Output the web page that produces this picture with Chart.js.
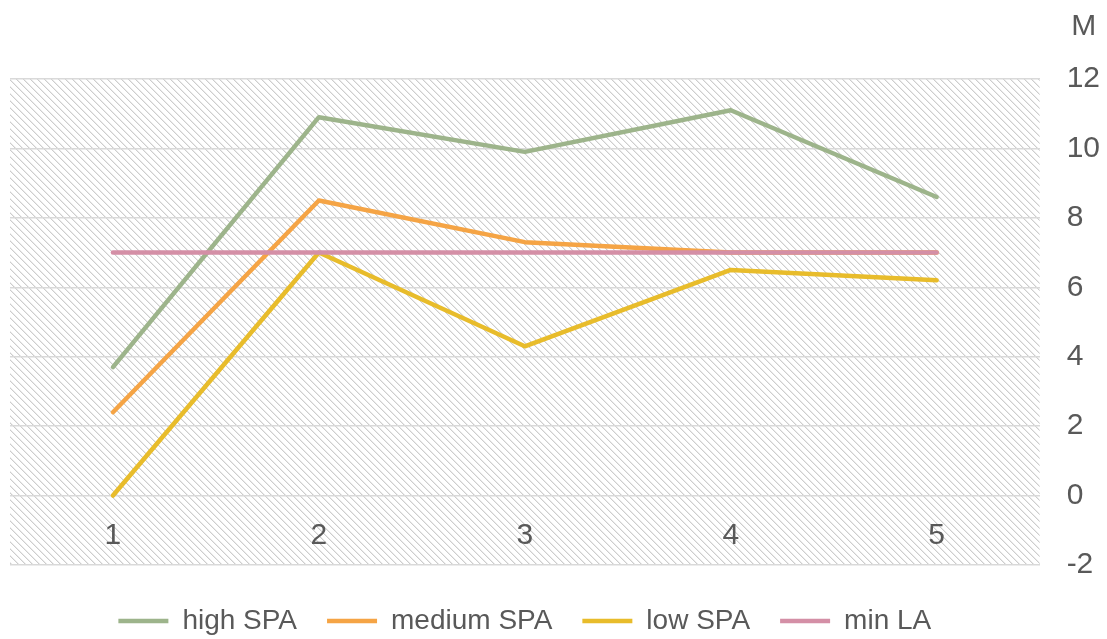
<!DOCTYPE html>
<html>
<head>
<meta charset="utf-8">
<script src="https://cdn.jsdelivr.net/npm/chart.js@4/dist/chart.umd.min.js"></script>
<style>
  html, body { margin: 0; padding: 0; background: #ffffff; }
  #wrap { width: 1107px; height: 639px; position: relative; }
</style>
</head>
<body>
<div id="wrap"><canvas id="c" width="1107" height="639"></canvas></div>
<script>
const categories = ['1', '2', '3', '4', '5'];
const highSPA   = [3.7, 10.9, 9.9, 11.1, 8.6];
const mediumSPA = [2.4, 8.5, 7.3, 7.0, 7.0];
const lowSPA    = [0.0, 7.0, 4.3, 6.5, 6.2];
const minLA     = [7.0, 7.0, 7.0, 7.0, 7.0];
const seriesNames = ['high SPA', 'medium SPA', 'low SPA', 'min LA'];
const yTicks = { min: -2, max: 12, step: 2 };
const unitLabel = 'M';

const TEXT = '#595959';
const FONT = 'Liberation Sans, Arial, Helvetica, sans-serif';

function makeHatch() {
  const s = 7;
  const t = document.createElement('canvas');
  t.width = s; t.height = s;
  const g = t.getContext('2d');
  g.fillStyle = '#ffffff';
  g.fillRect(0, 0, s, s);
  for (let i = 0; i < s; i++) {
    g.fillStyle = 'rgba(200,200,200,0.9)';
    g.fillRect(i, i, 1, 1);
    g.fillStyle = 'rgba(215,215,215,0.5)';
    g.fillRect((i + 1) % s, i, 1, 1);
  }
  return t;
}

const hatchPlugin = {
  id: 'hatch',
  beforeDraw(chart) {
    const {ctx, chartArea: a} = chart;
    ctx.save();
    ctx.fillStyle = ctx.createPattern(makeHatch(), 'repeat');
    ctx.fillRect(a.left, a.top, a.right - a.left, a.bottom - a.top);
    ctx.restore();
  }
};

const labelsPlugin = {
  id: 'extraLabels',
  afterDraw(chart) {
    const {ctx, chartArea: a} = chart;
    const xs = chart.scales.x, ys = chart.scales.y;
    ctx.save();
    ctx.fillStyle = TEXT;
    ctx.font = '30px ' + FONT;
    ctx.textAlign = 'center';
    ctx.textBaseline = 'middle';
    const y0 = ys.getPixelForValue(0);
    categories.forEach((c, i) => {
      ctx.fillText(c, xs.getPixelForValue(i), y0 + 40);
    });
    ctx.fillText(unitLabel, a.right + 27 + 17, a.top - 52);
    ctx.restore();
  }
};

const colors = ['#9DB48B', '#F5A445', '#E8BC2B', '#D48FA6'];
const seriesData = [highSPA, mediumSPA, lowSPA, minLA];
const orders = [3, 2, 1, 0];

new Chart(document.getElementById('c'), {
  type: 'line',
  data: {
    labels: categories,
    datasets: seriesNames.map((n, i) => ({
      label: n,
      data: seriesData[i],
      borderColor: colors[i],
      backgroundColor: colors[i],
      borderWidth: 4.5,
      pointRadius: 0,
      pointHoverRadius: 0,
      fill: false,
      tension: 0,
      borderCapStyle: 'round',
      borderJoinStyle: 'round',
      order: orders[i]
    }))
  },
  options: {
    responsive: false,
    animation: false,
    devicePixelRatio: 1,
    layout: { padding: { left: 10, right: -20, top: 79, bottom: -6 } },
    scales: {
      x: {
        type: 'category',
        offset: true,
        display: true,
        ticks: { display: false },
        grid: { display: false },
        border: { display: false },
        afterFit: (s) => { s.height = 12; }
      },
      y: {
        position: 'right',
        min: yTicks.min,
        max: yTicks.max,
        ticks: {
          stepSize: yTicks.step,
          color: TEXT,
          font: { family: FONT, size: 30 },
          padding: 27
        },
        grid: { color: '#d9d9d9', lineWidth: 1.5, drawTicks: false },
        border: { display: false }
      }
    },
    plugins: {
      legend: {
        position: 'bottom',
        fullSize: false,
        labels: {
          usePointStyle: true,
          pointStyle: 'line',
          pointStyleWidth: 50,
          color: TEXT,
          font: { family: FONT, size: 28 },
          padding: 30,
          sort: (a, b) => a.datasetIndex - b.datasetIndex
        }
      },
      tooltip: { enabled: false }
    }
  },
  plugins: [hatchPlugin, labelsPlugin]
});
</script>
</body>
</html>
